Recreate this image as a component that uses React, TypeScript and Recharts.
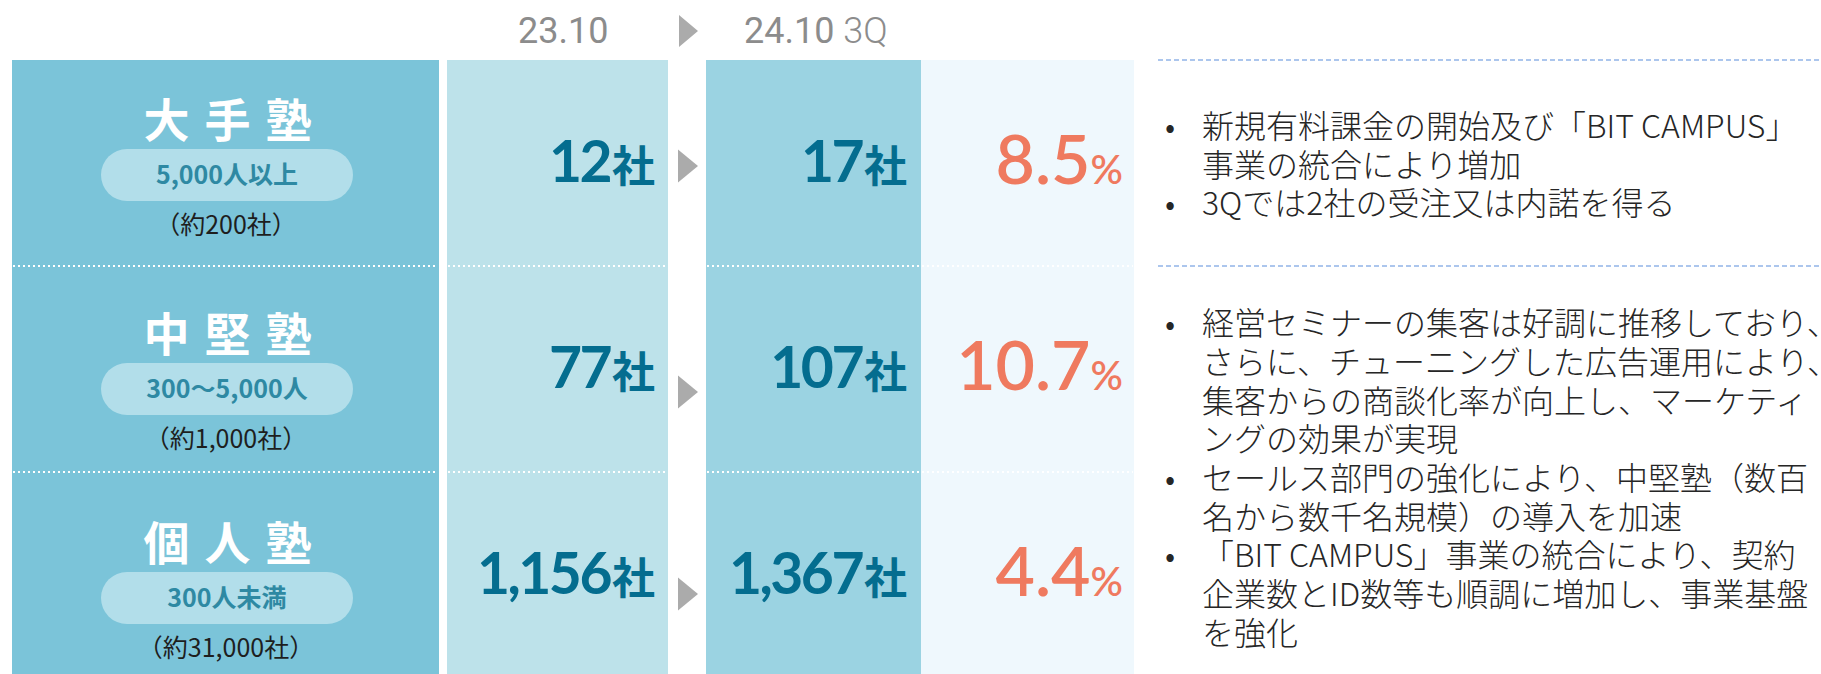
import { Bar, BarChart, Customized, XAxis, YAxis } from 'recharts'

const tiers = ['大手塾', '中堅塾', '個人塾']
const tierSizes = ['5,000人以上', '300〜5,000人', '300人未満']
const tierMarkets = ['（約200社）', '（約1,000社）', '（約31,000社）']
const clientsPrev = [12, 77, 1156]
const clientsCur = [17, 107, 1367]
const shares = [8.5, 10.7, 4.4]
const periodPrev = '23.10'
const periodCur = '24.10'
const periodTag = '3Q'
const unit = '社'

const notesLarge = [
  ['新規有料課金の開始及び「BIT CAMPUS」', '事業の統合により増加'],
  ['3Qでは2社の受注又は内諾を得る'],
]
const notesMid = [
  [
    '経営セミナーの集客は好調に推移しており、',
    'さらに、チューニングした広告運用により、',
    '集客からの商談化率が向上し、マーケティ',
    'ングの効果が実現',
  ],
  ['セールス部門の強化により、中堅塾（数百', '名から数千名規模）の導入を加速'],
  ['「BIT CAMPUS」事業の統合により、契約', '企業数とID数等も順調に増加し、事業基盤', 'を強化'],
]

const rows = tiers.map((tier, i) => ({
  tier,
  size: tierSizes[i],
  market: tierMarkets[i],
  prev: clientsPrev[i],
  cur: clientsCur[i],
  share: shares[i],
}))

// layout / palette
const W = 1821
const H = 678
const TOP = 60
const CAT = [12, 439]
const PREV = [447, 668]
const CUR = [706, 921]
const SHARE = [921, 1134]
const NOTE_X = 1158
const CONTENT_NUDGE = [-8, 0, 3]
const ARROW_NUDGE = [3, 23, 19]
const LINE_STEP = 38.7

const CAT_BG = '#7BC4D9'
const PILL_BG = '#B2DEEA'
const PILL_TEXT = '#2E89A3'
const PREV_BG = '#BDE2EA'
const CUR_BG = '#9BD3E2'
const SHARE_BG = '#EFF8FD'
const VALUE = '#046D8F'
const SHARE_C = '#EF7A5F'
const ARROW = '#ABABAB'
const HEAD = '#8C8C8C'
const NOTE = '#262626'
const DASH = '#5B8EDC'

const JP = '"Noto Sans CJK JP", sans-serif'
const NUM = 'Lato, sans-serif'

const fmt = (v: number) => v.toLocaleString('en-US')

function Arrow({ x, cy }: { x: number; cy: number }) {
  return <polygon points={`${x},${cy - 16.5} ${x},${cy + 16.5} ${x + 20},${cy}`} fill={ARROW} />
}

function Count({ right, cy, value }: { right: number; cy: number; value: number }) {
  return (
    <text x={right} y={cy + 18.5} textAnchor="end" fill={VALUE}>
      <tspan fontFamily={NUM} fontWeight={700} fontSize={57} letterSpacing={-2.5}>
        {fmt(value)}
      </tspan>
      <tspan fontFamily={JP} fontWeight={700} fontSize={43} dx={2}>
        {unit}
      </tspan>
    </text>
  )
}

function NoteBlock({ groups, cy }: { groups: string[][]; cy: number }) {
  const lines: { text: string; bullet: boolean }[] = []
  groups.forEach((g) => g.forEach((text, j) => lines.push({ text, bullet: j === 0 })))
  const first = cy - ((lines.length - 1) * LINE_STEP) / 2
  return (
    <g fontFamily={JP} fontSize={32} fontWeight={300} fill={NOTE}>
      {lines.map((l, i) => {
        const base = first + i * LINE_STEP + 12
        return (
          <g key={i}>
            {l.bullet && (
              <text x={1170} y={base} textAnchor="middle">
                •
              </text>
            )}
            <text x={1202} y={base}>
              {l.text}
            </text>
          </g>
        )
      })}
    </g>
  )
}

function RowCells(props: any) {
  const { y, height, index, payload } = props
  const cy = y + height / 2
  const n = CONTENT_NUDGE[index]
  const cells: [number[], string][] = [
    [CAT, CAT_BG],
    [PREV, PREV_BG],
    [CUR, CUR_BG],
    [SHARE, SHARE_BG],
  ]
  return (
    <g>
      {cells.map(([c, fill], i) => (
        <rect key={i} x={c[0]} y={y} width={c[1] - c[0]} height={height} fill={fill} />
      ))}
      {index > 0 &&
        [CAT, PREV, [CUR[0], SHARE[1]]].map((c, i) => (
          <line
            key={i}
            x1={c[0] + 1}
            x2={c[1] - 1}
            y1={y}
            y2={y}
            stroke="#FFFFFF"
            strokeWidth={2}
            strokeDasharray="2 3"
          />
        ))}

      {/* tier label */}
      <text
        x={235}
        y={cy - 35 + n + 17}
        textAnchor="middle"
        fill="#FFFFFF"
        fontFamily={JP}
        fontWeight={700}
        fontSize={46}
        letterSpacing={15}
      >
        {payload.tier}
      </text>
      <rect x={101} y={cy + 20 + n - 26} width={252} height={52} rx={26} fill={PILL_BG} />
      <text
        x={227}
        y={cy + 20 + n + 9}
        textAnchor="middle"
        fill={PILL_TEXT}
        fontFamily={JP}
        fontWeight={700}
        fontSize={25}
      >
        {payload.size}
      </text>
      <text x={226} y={cy + 70 + n + 9} textAnchor="middle" fill="#1E1E1E" fontFamily={JP} fontSize={25}>
        {payload.market}
      </text>

      <Count right={655} cy={cy} value={payload.prev} />
      <Arrow x={678} cy={cy + ARROW_NUDGE[index]} />
      <Count right={907} cy={cy} value={payload.cur} />

      <text x={1123} y={cy + 21} textAnchor="end" fill={SHARE_C} fontFamily={NUM} fontWeight={600}>
        <tspan fontSize={68}>{payload.share.toFixed(1)}</tspan>
        <tspan fontSize={40}>%</tspan>
      </text>

      {index < 2 && (
        <line x1={NOTE_X} x2={W} y1={y} y2={y} stroke={DASH} strokeWidth={1.2} strokeDasharray="5 3" />
      )}
      {index === 0 && <NoteBlock groups={notesLarge} cy={cy + 1.5} />}
      {index === 1 && <NoteBlock groups={notesMid} cy={y + height + 6} />}
    </g>
  )
}

function Header() {
  return (
    <g fontFamily="Roboto, sans-serif" fontSize={36} fill={HEAD}>
      <text x={518} y={43}>
        {periodPrev}
      </text>
      <polygon points="679,15 679,47 698,31" fill={ARROW} />
      <text x={744} y={43}>
        {periodCur}
        <tspan fontWeight={300}>{' ' + periodTag}</tspan>
      </text>
    </g>
  )
}

export default function App() {
  return (
    <div style={{ position: 'absolute', left: 0, top: 0, width: W, height: 674, overflow: 'hidden', background: '#fff' }}>
      <BarChart
        width={W}
        height={H}
        data={rows}
        layout="vertical"
        margin={{ top: TOP, right: 0, bottom: 0, left: 0 }}
        barCategoryGap={0}
      >
        <XAxis type="number" hide domain={[0, 'dataMax']} />
        <YAxis type="category" dataKey="tier" hide />
        <Bar dataKey="cur" shape={RowCells} isAnimationActive={false} />
        <Customized component={Header} />
      </BarChart>
    </div>
  )
}
